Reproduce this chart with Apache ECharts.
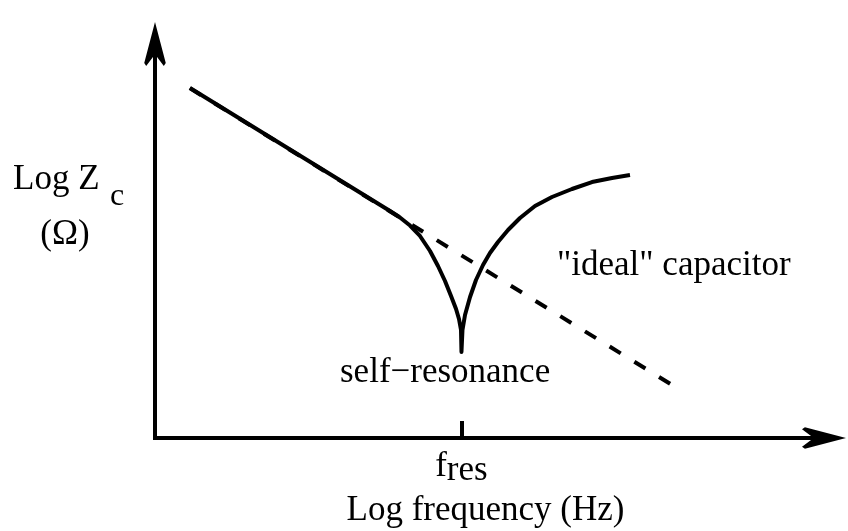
<!DOCTYPE html>
<html>
<head>
<meta charset="utf-8">
<script src="https://cdn.jsdelivr.net/npm/echarts@6/dist/echarts.min.js"></script>
<style>
  html, body { margin: 0; padding: 0; background: #fff; }
  #chart { width: 848px; height: 531px; }
</style>
</head>
<body>
<div id="chart"></div>
<script>
// Position of the self-resonance frequency on the log-frequency axis
const fRes = 45.8;
const fResLabel = ['f', 'res'];

// "ideal" capacitor: a straight falling line on log-log axes
const idealFreq = [5.2, 78.5];
const idealLogZ = [88.8, 12.2];

// Real capacitor: follows the ideal line, notches down at fRes, then rises (inductive)
const realFreq = [5.23, 35.13, 36.62, 38.12, 39.61, 41.11, 42.30, 43.35, 44.25, 45.00, 45.44, 45.74, 45.81,
                  45.96, 46.34, 47.09, 47.98, 49.03, 50.07, 51.27, 52.77, 54.56, 56.80, 59.34, 62.33, 65.32, 68.31, 71.00];
const realLogZ = [88.83, 57.61, 55.96, 53.93, 51.27, 47.46, 43.65, 39.85, 36.04, 32.74, 30.20, 27.41, 21.83,
                  27.41, 31.22, 35.79, 40.10, 43.91, 46.95, 49.75, 52.79, 55.84, 58.88, 61.17, 63.20, 64.97, 65.99, 66.75];

// Text annotations
const yTitle = 'Log Z';
const ySub = 'c';
const yUnit = '(\u03A9)';
const xTitle = 'Log frequency (Hz)';
const resonanceNote = 'self\u2212resonance';
const idealNote = '"ideal" capacitor';

const FONT = '"Liberation Serif", "Times New Roman", serif';
const INK = '#000';
const arrowHead = 'path://M11,0 L22,42 L20,45 L11,33 L2,45 L0,42 Z';

const zip = (xs, ys) => xs.map((x, i) => [x, ys[i]]);

const chart = echarts.init(document.getElementById('chart'), null, { renderer: 'canvas' });

chart.setOption({
  animation: false,
  backgroundColor: '#fff',
  grid: { left: 155, right: 24, top: 44, bottom: 93, outerBoundsMode: 'none' },
  xAxis: {
    type: 'value',
    min: 0,
    max: 100,
    name: xTitle,
    nameLocation: 'middle',
    nameGap: 49,
    nameTextStyle: { fontFamily: FONT, fontSize: 35, color: INK, padding: [0, 8, 0, 0] },
    axisLine: {
      show: true,
      symbol: ['none', arrowHead],
      symbolSize: [22, 44],
      lineStyle: { color: INK, width: 4, cap: 'square' }
    },
    axisTick: {
      show: true,
      inside: true,
      length: 17,
      customValues: [fRes],
      lineStyle: { color: INK, width: 4 }
    },
    axisLabel: {
      show: true,
      customValues: [fRes],
      margin: 11,
      formatter: () => '{f|' + fResLabel[0] + '}{s|' + fResLabel[1] + '}',
      rich: {
        f: { fontFamily: FONT, fontSize: 35, color: INK, verticalAlign: 'bottom', padding: [0, 0, 4, 0] },
        s: { fontFamily: FONT, fontSize: 35, color: INK, verticalAlign: 'bottom' }
      }
    },
    splitLine: { show: false }
  },
  yAxis: {
    type: 'value',
    min: 0,
    max: 100,
    axisLine: {
      show: true,
      symbol: ['none', arrowHead],
      symbolSize: [22, 44],
      lineStyle: { color: INK, width: 4, cap: 'square' }
    },
    axisTick: { show: false },
    axisLabel: { show: false },
    splitLine: { show: false }
  },
  series: [
    {
      name: 'ideal',
      type: 'line',
      data: zip(idealFreq, idealLogZ),
      symbol: 'none',
      silent: true,
      lineStyle: { color: INK, width: 4, type: [13, 16], cap: 'butt' },
      z: 2
    },
    {
      name: 'real',
      type: 'line',
      data: zip(realFreq, realLogZ),
      symbol: 'none',
      silent: true,
      smooth: false,
      lineStyle: { color: INK, width: 4, join: 'round', cap: 'butt' },
      z: 3
    }
  ],
  graphic: [
    { type: 'text', x: 13, y: 180, style: { text: yTitle, font: '35px ' + FONT, fill: INK, align: 'left', verticalAlign: 'middle' } },
    { type: 'text', x: 110, y: 197, style: { text: ySub, font: '32px ' + FONT, fill: INK, align: 'left', verticalAlign: 'middle' } },
    { type: 'text', x: 65, y: 235, style: { text: yUnit, font: '35px ' + FONT, fill: INK, align: 'center', verticalAlign: 'middle' } },
    { type: 'text', x: 340, y: 373, style: { text: resonanceNote, font: '35px ' + FONT, fill: INK, align: 'left', verticalAlign: 'middle' } },
    { type: 'text', x: 557, y: 266, style: { text: idealNote, font: '35px ' + FONT, fill: INK, align: 'left', verticalAlign: 'middle' } }
  ]
});
</script>
</body>
</html>
